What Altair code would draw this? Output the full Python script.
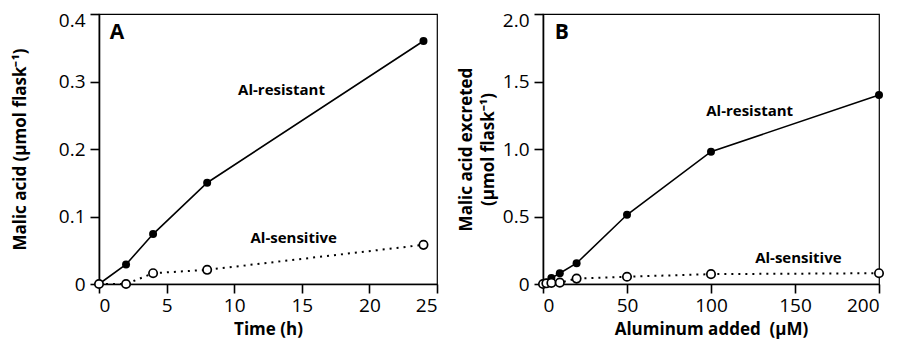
import altair as alt
import pandas as pd

FONT = "Open Sans"

# Panel A: time course
time_res = [0, 2, 4, 8, 24]
val_res_a = [0.0, 0.029, 0.074, 0.150, 0.360]
time_sen = [0, 2, 4, 8, 24]
val_sen_a = [0.0, 0.0, 0.016, 0.021, 0.058]

# Panel B: aluminium dose
al_res = [0, 2, 5, 10, 20, 50, 100, 200]
val_res_b = [0.0, 0.01, 0.044, 0.08, 0.154, 0.513, 0.98, 1.40]
al_sen = [0, 2, 5, 10, 20, 50, 100, 200]
val_sen_b = [0.0, 0.005, 0.008, 0.01, 0.04, 0.054, 0.073, 0.08]

# annotation texts (data coordinates)
ann_a_text = ["Al-resistant", "Al-sensitive"]
ann_a_x = [13.5, 14.4]
ann_a_y = [0.287, 0.068]
ann_b_text = ["Al-resistant", "Al-sensitive"]
ann_b_x = [123, 152]
ann_b_y = [1.28, 0.19]
panel_a = ("A", 0.8, 0.372)
panel_b = ("B", 7, 1.86)

H = 270


def panel(xs_r, ys_r, xs_s, ys_s, xdom, xvals, ydom, yvals, xtitle, ytitle,
          ann_t, ann_x, ann_y, plabel, yfmt, ytpad, ytop, width):
    xenc = alt.X("x:Q", scale=alt.Scale(domain=xdom, nice=False, zero=False, padding=0),
                 axis=alt.Axis(values=xvals, title=xtitle, grid=False))
    yenc = alt.Y("y:Q", scale=alt.Scale(domain=ydom, nice=False, zero=False, padding=0),
                 axis=alt.Axis(values=yvals, title=ytitle, grid=False,
                               labelExpr=yfmt, titlePadding=ytpad,
                               labelOffset={"condition": {"test": f"datum.value >= {ytop}",
                                                          "value": 6}, "value": 0}))
    dr = pd.DataFrame({"x": xs_r, "y": ys_r})
    ds = pd.DataFrame({"x": xs_s, "y": ys_s})
    line_r = alt.Chart(dr).mark_line(color="black", strokeWidth=1.6).encode(x=xenc, y=yenc)
    pts_r = alt.Chart(dr).mark_point(filled=True, color="black", size=64, opacity=1).encode(x=xenc, y=yenc)
    line_s = alt.Chart(ds).mark_line(color="black", strokeWidth=2, strokeDash=[2, 5]).encode(x=xenc, y=yenc)
    pts_s = alt.Chart(ds).mark_point(filled=True, fill="white", stroke="black",
                                     strokeWidth=1.7, size=70, opacity=1).encode(x=xenc, y=yenc)
    da = pd.DataFrame({"t": ann_t, "x": ann_x, "y": ann_y})
    ann = alt.Chart(da).mark_text(font=FONT, fontSize=15, fontWeight="bold",
                                  color="black").encode(x=xenc, y=yenc, text="t:N")
    dp = pd.DataFrame({"t": [plabel[0]], "x": [plabel[1]], "y": [plabel[2]]})
    pl = alt.Chart(dp).mark_text(font=FONT, fontSize=21, fontWeight="bold", align="left",
                                 color="black").encode(x=xenc, y=yenc, text="t:N")
    return alt.layer(line_r, line_s, pts_r, pts_s, ann, pl).properties(width=width, height=H)


fmt = "datum.value == 0 ? '0' : format(datum.value, '.1f')"
a = panel(time_res, val_res_a, time_sen, val_sen_a, [0, 25], [0, 5, 10, 15, 20, 25],
          [0, 0.4], [0, 0.1, 0.2, 0.3, 0.4], "Time (h)", "Malic acid (µmol flask⁻¹)",
          ann_a_text, ann_a_x, ann_a_y, panel_a, fmt, 29, 0.4, 338)
b = panel(al_res, val_res_b, al_sen, val_sen_b, [0, 200], [0, 50, 100, 150, 200],
          [0, 2.0], [0, 0.5, 1.0, 1.5, 2.0], "Aluminum added\u00a0 (µM)",
          ["Malic acid excreted", "(µmol flask⁻¹)"],
          ann_b_text, ann_b_x, ann_b_y, panel_b, fmt, 5, 2.0, 336)

chart = alt.hconcat(a, b, spacing=17).properties(
    padding={"left": 2, "top": 2, "right": 2, "bottom": 2}
).configure_view(stroke="black", strokeWidth=1.2).configure_axis(
    domainColor="black", domainWidth=1.6, tickColor="black", tickWidth=1.6, tickSize=9,
    labelFont=FONT, labelFontSize=19, labelColor="black", labelPadding=5,
    titleFont=FONT, titleFontSize=17, titleFontWeight="bold", titleColor="black",
    titlePadding=6, titleLineHeight=22
).configure_axisX(labelPadding=3)

chart.save("out.html", embed_options={"renderer": "svg", "actions": False})
